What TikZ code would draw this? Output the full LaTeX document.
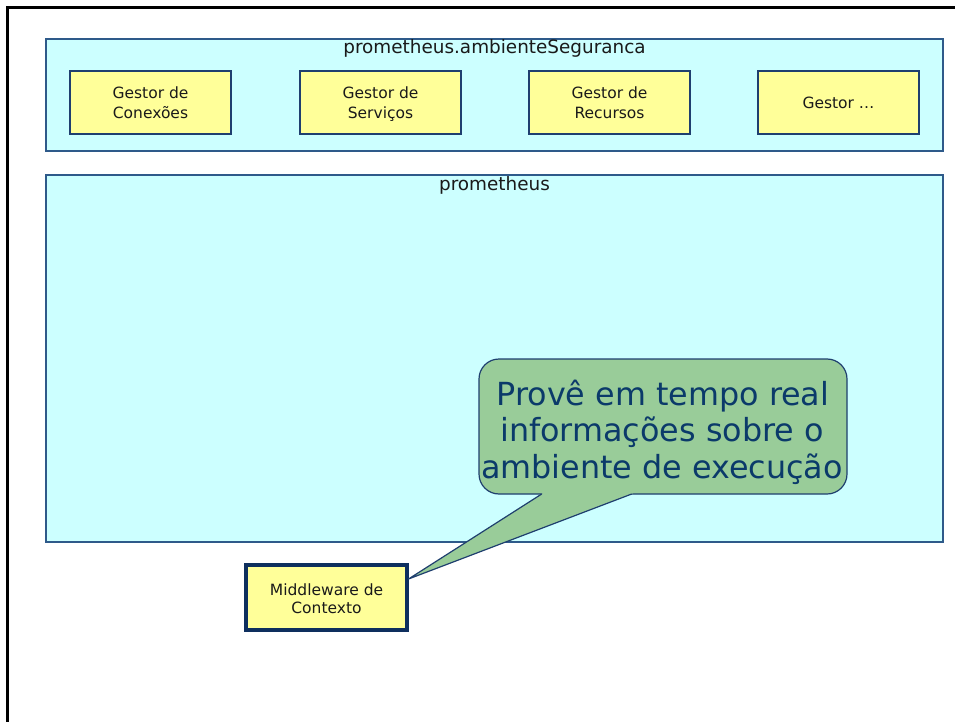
\documentclass[tikz,border=0pt]{standalone}
\usepackage{fontspec}
\setmainfont{DejaVu Sans}
\usetikzlibrary{calc}
\definecolor{pkgfill}{HTML}{CCFFFF}
\definecolor{pkgline}{HTML}{2E5A8A}
\definecolor{compfill}{HTML}{FFFF99}
\definecolor{compline}{HTML}{1F3F6F}
\definecolor{mwline}{HTML}{0E2F5E}
\definecolor{notefill}{HTML}{99CC99}
\definecolor{noteborder}{HTML}{1F3F6F}
\definecolor{notetext}{HTML}{0B3A6A}
\definecolor{boxtext}{HTML}{1A1A1A}
\newcommand\bxstrut{\rule[-3.5pt]{0pt}{20pt}}
\newcommand\mwstrut{\rule[-2.5pt]{0pt}{18pt}}
\tikzset{
  frameline/.style={line width=3pt, black, line join=miter},
  pkg/.style={draw=pkgline, fill=pkgfill, line width=1.2pt, inner sep=0pt},
  pkgtitle/.style={anchor=base, inner sep=0pt, text=boxtext, font=\fontsize{18.4}{22}\selectfont},
  comp/.style={draw=compline, fill=compfill, line width=1.2pt, inner sep=0pt,
    minimum width=161pt, minimum height=63pt, align=center, text=boxtext,
    font=\fontsize{15.5}{20}\selectfont},
  mwbox/.style={comp, draw=mwline, line width=3.2pt, minimum height=65pt,
    font=\fontsize{15.5}{18}\selectfont},
  notebody/.style={draw=noteborder, fill=notefill, line width=1.2pt, rounded corners=20pt,
    minimum width=368pt, minimum height=135pt, inner sep=0pt},
  tailline/.style={draw=noteborder, line width=1.2pt, line join=round},
  notetextline/.style={anchor=base, inner sep=0pt, text=notetext, font=\fontsize{31.8}{36}\selectfont},
}
\begin{document}
\begin{tikzpicture}[x=1pt,y=-1pt]
\useasboundingbox (0,0) rectangle (955,722);
\fill[white] (0,0) rectangle (955,722);
\draw[frameline] (7.5,722) -- (7.5,7.3) -- (955,7.3);

% package: prometheus.ambienteSeguranca
\node[pkg, minimum width=897pt, minimum height=112pt] (amb) at (494.5,95) {};
\node[pkgtitle] (ambtitle) at (494.5,54) {prometheus.ambienteSeguranca};
\node[comp] (g1) at (150.5,102.5) {\bxstrut Gestor de\\\bxstrut Conexões};
\node[comp] (g2) at (380.5,102.5) {\bxstrut Gestor de\\\bxstrut Serviços};
\node[comp] (g3) at (609.5,102.5) {\bxstrut Gestor de\\\bxstrut Recursos};
\node[comp] (g4) at (838.5,102.5) {\bxstrut Gestor …};

% package: prometheus
\node[pkg, minimum width=897pt, minimum height=367pt] (prom) at (494.5,358.5) {};
\node[pkgtitle] (promtitle) at (494.5,190.5) {prometheus};

% middleware
\node[mwbox] (mw) at (326.5,597.5) {\mwstrut Middleware de\\\mwstrut Contexto};

% callout
\coordinate (tip) at (408.5,579);
\coordinate (tailL) at (541.7,494);
\coordinate (tailR) at (631.7,494);
\fill[notefill] (tailL) -- (tip) -- (tailR) -- cycle;
\node[notebody] (note) at (663,426.5) {};
\fill[notefill] ($(tailL)+(2,-1.5)$) -- (tip) -- ($(tailR)+(3,-1.5)$) -- cycle;
\draw[tailline] (tailL) -- (tip) -- (tailR);
\node[notetextline] (n1) at (663,405) {Provê em tempo real};
\node[notetextline] (n2) at (662,441.7) {informações sobre o\hspace{0.318em}};
\node[notetextline] (n3) at (662,478) {ambiente de execução};
\end{tikzpicture}
\end{document}
